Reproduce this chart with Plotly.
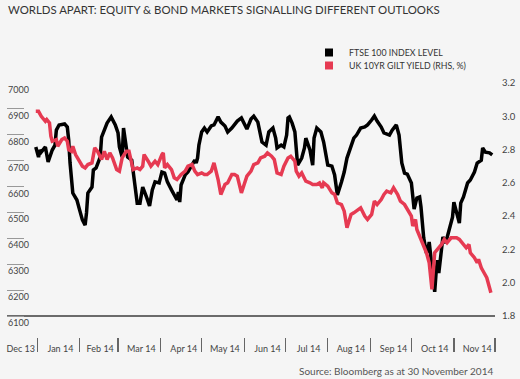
import plotly.graph_objects as go

# ---------------- data ----------------
ftse_dates = [
    "2013-12-31", "2014-01-02", "2014-01-03", "2014-01-04", "2014-01-07", "2014-01-09", "2014-01-12",
    "2014-01-14", "2014-01-15", "2014-01-17", "2014-01-21", "2014-01-23", "2014-01-24", "2014-01-25",
    "2014-01-27", "2014-01-30", "2014-02-01", "2014-02-03", "2014-02-05", "2014-02-06", "2014-02-07",
    "2014-02-10", "2014-02-11", "2014-02-13", "2014-02-16", "2014-02-17", "2014-02-21", "2014-02-24",
    "2014-02-27", "2014-03-01", "2014-03-02", "2014-03-04", "2014-03-05", "2014-03-07", "2014-03-08",
    "2014-03-11", "2014-03-13", "2014-03-15", "2014-03-17", "2014-03-19", "2014-03-22", "2014-03-24",
    "2014-03-26", "2014-03-28", "2014-03-31", "2014-04-02", "2014-04-04", "2014-04-06", "2014-04-09",
    "2014-04-11", "2014-04-13", "2014-04-14", "2014-04-15", "2014-04-16", "2014-04-19", "2014-04-21",
    "2014-04-24", "2014-04-26", "2014-04-27", "2014-04-28", "2014-04-29", "2014-05-01", "2014-05-03",
    "2014-05-05", "2014-05-08", "2014-05-10", "2014-05-13", "2014-05-15", "2014-05-18", "2014-05-20",
    "2014-05-23", "2014-05-25", "2014-05-27", "2014-05-30", "2014-06-01", "2014-06-03", "2014-06-06",
    "2014-06-08", "2014-06-11", "2014-06-12", "2014-06-14", "2014-06-17", "2014-06-19", "2014-06-22",
    "2014-06-24", "2014-06-25", "2014-06-28", "2014-06-30", "2014-07-02", "2014-07-03", "2014-07-04",
    "2014-07-06", "2014-07-08", "2014-07-10", "2014-07-13", "2014-07-15", "2014-07-16", "2014-07-19",
    "2014-07-21", "2014-07-22", "2014-07-24", "2014-07-27", "2014-07-29", "2014-08-01", "2014-08-04",
    "2014-08-06", "2014-08-08", "2014-08-11", "2014-08-13", "2014-08-15", "2014-08-18", "2014-08-20",
    "2014-08-22", "2014-08-25", "2014-08-28", "2014-08-30", "2014-09-02", "2014-09-04", "2014-09-06",
    "2014-09-09", "2014-09-11", "2014-09-15", "2014-09-17", "2014-09-20", "2014-09-22", "2014-09-23",
    "2014-09-24", "2014-09-26", "2014-09-28", "2014-10-01", "2014-10-02", "2014-10-03", "2014-10-05",
    "2014-10-07", "2014-10-08", "2014-10-09", "2014-10-10", "2014-10-12", "2014-10-13", "2014-10-14",
    "2014-10-15", "2014-10-16", "2014-10-18", "2014-10-19", "2014-10-20", "2014-10-21", "2014-10-23",
    "2014-10-24", "2014-10-26", "2014-10-28", "2014-10-31", "2014-11-01", "2014-11-03", "2014-11-05",
    "2014-11-06", "2014-11-08", "2014-11-11", "2014-11-13", "2014-11-16", "2014-11-18", "2014-11-21",
    "2014-11-22", "2014-11-24", "2014-11-27", "2014-11-29",
]
ftse_values = [
    6753, 6714, 6741, 6733, 6753, 6695, 6741,
    6760, 6818, 6838, 6842, 6830, 6780, 6691,
    6575, 6548, 6509, 6471, 6451, 6498, 6575,
    6598, 6664, 6672, 6714, 6791, 6845, 6869,
    6838, 6807, 6753, 6714, 6826, 6753, 6714,
    6702, 6625, 6536, 6536, 6598, 6556, 6525,
    6587, 6618, 6614, 6656, 6652, 6618, 6587,
    6567, 6548, 6579, 6540, 6606, 6645, 6656,
    6683, 6702, 6691, 6710, 6760, 6811, 6826,
    6811, 6834, 6838, 6869, 6849, 6834, 6811,
    6826, 6838, 6853, 6865, 6842, 6822, 6861,
    6872, 6849, 6818, 6772, 6760, 6811, 6826,
    6787, 6749, 6760, 6753, 6799, 6865, 6869,
    6845, 6811, 6683, 6710, 6749, 6787, 6741,
    6683, 6787, 6826, 6811, 6772, 6683, 6679,
    6645, 6567, 6618, 6656, 6710, 6760, 6787,
    6799, 6826, 6830, 6838, 6857, 6872, 6853,
    6830, 6807, 6799, 6818, 6838, 6799, 6753,
    6691, 6652, 6648, 6614, 6560, 6513, 6556,
    6560, 6521, 6471, 6401, 6343, 6355, 6386,
    6343, 6305, 6193, 6266, 6316, 6266, 6366,
    6405, 6382, 6421, 6482, 6540, 6498, 6459,
    6536, 6560, 6614, 6625, 6656, 6691, 6702,
    6749, 6733, 6730, 6722,
]

gilt_dates = [
    "2013-12-31", "2014-01-02", "2014-01-04", "2014-01-07", "2014-01-08", "2014-01-10", "2014-01-11",
    "2014-01-12", "2014-01-15", "2014-01-16", "2014-01-19", "2014-01-21", "2014-01-23", "2014-01-24",
    "2014-01-26", "2014-01-27", "2014-01-29", "2014-01-31", "2014-02-03", "2014-02-05", "2014-02-07",
    "2014-02-10", "2014-02-12", "2014-02-14", "2014-02-17", "2014-02-19", "2014-02-21", "2014-02-23",
    "2014-02-25", "2014-02-28", "2014-03-02", "2014-03-04", "2014-03-07", "2014-03-09", "2014-03-12",
    "2014-03-15", "2014-03-17", "2014-03-19", "2014-03-20", "2014-03-23", "2014-03-25", "2014-03-28",
    "2014-03-30", "2014-04-02", "2014-04-03", "2014-04-04", "2014-04-06", "2014-04-09", "2014-04-11",
    "2014-04-13", "2014-04-16", "2014-04-19", "2014-04-21", "2014-04-24", "2014-04-26", "2014-04-28",
    "2014-05-01", "2014-05-03", "2014-05-05", "2014-05-08", "2014-05-10", "2014-05-13", "2014-05-15",
    "2014-05-18", "2014-05-20", "2014-05-23", "2014-05-25", "2014-05-27", "2014-05-30", "2014-06-01",
    "2014-06-03", "2014-06-06", "2014-06-08", "2014-06-11", "2014-06-13", "2014-06-16", "2014-06-18",
    "2014-06-21", "2014-06-23", "2014-06-25", "2014-06-28", "2014-06-30", "2014-07-03", "2014-07-05",
    "2014-07-08", "2014-07-09", "2014-07-11", "2014-07-13", "2014-07-16", "2014-07-19", "2014-07-21",
    "2014-07-24", "2014-07-26", "2014-07-28", "2014-07-29", "2014-08-01", "2014-08-04", "2014-08-06",
    "2014-08-08", "2014-08-11", "2014-08-13", "2014-08-15", "2014-08-18", "2014-08-20", "2014-08-22",
    "2014-08-25", "2014-08-28", "2014-08-30", "2014-09-02", "2014-09-04", "2014-09-06", "2014-09-09",
    "2014-09-11", "2014-09-13", "2014-09-16", "2014-09-18", "2014-09-21", "2014-09-23", "2014-09-26",
    "2014-09-28", "2014-10-01", "2014-10-02", "2014-10-04", "2014-10-05", "2014-10-08", "2014-10-10",
    "2014-10-12", "2014-10-14", "2014-10-15", "2014-10-16", "2014-10-18", "2014-10-20", "2014-10-23",
    "2014-10-25", "2014-10-27", "2014-10-30", "2014-11-03", "2014-11-05", "2014-11-07", "2014-11-10",
    "2014-11-12", "2014-11-13", "2014-11-16", "2014-11-18", "2014-11-19", "2014-11-21", "2014-11-23",
    "2014-11-25", "2014-11-28",
]
gilt_values = [
    3.03, 3.03, 3.00, 2.97, 2.98, 2.96, 2.88,
    2.85, 2.86, 2.82, 2.86, 2.87, 2.85, 2.80,
    2.79, 2.82, 2.77, 2.74, 2.70, 2.69, 2.71,
    2.72, 2.81, 2.79, 2.74, 2.79, 2.74, 2.78,
    2.75, 2.68, 2.67, 2.75, 2.79, 2.79, 2.68,
    2.69, 2.68, 2.70, 2.77, 2.73, 2.70, 2.73,
    2.71, 2.77, 2.78, 2.69, 2.71, 2.68, 2.63,
    2.62, 2.65, 2.67, 2.70, 2.71, 2.67, 2.65,
    2.66, 2.65, 2.65, 2.67, 2.72, 2.62, 2.53,
    2.59, 2.60, 2.65, 2.65, 2.64, 2.54, 2.59,
    2.64, 2.67, 2.71, 2.72, 2.75, 2.76, 2.78,
    2.76, 2.74, 2.66, 2.65, 2.70, 2.75, 2.76,
    2.73, 2.67, 2.64, 2.66, 2.61, 2.60, 2.59,
    2.59, 2.60, 2.57, 2.60, 2.58, 2.54, 2.53,
    2.48, 2.47, 2.43, 2.33, 2.41, 2.42, 2.43,
    2.45, 2.40, 2.38, 2.41, 2.49, 2.47, 2.50,
    2.53, 2.55, 2.54, 2.57, 2.53, 2.49, 2.47,
    2.44, 2.40, 2.34, 2.38, 2.32, 2.26, 2.21,
    2.18, 2.12, 2.02, 1.96, 2.18, 2.20, 2.23,
    2.26, 2.24, 2.27, 2.27, 2.26, 2.24, 2.21,
    2.23, 2.18, 2.15, 2.12, 2.14, 2.09, 2.06,
    2.03, 1.94,
]

# month tick labels (placed mid-month); separators fall on month boundaries
month_label_dates = [
    "2013-12-20", "2014-01-18", "2014-02-16", "2014-03-18", "2014-04-18", "2014-05-18",
    "2014-06-18", "2014-07-18", "2014-08-18", "2014-09-18", "2014-10-18", "2014-11-18",
]
month_labels = [
    "Dec 13", "Jan 14", "Feb 14", "Mar 14", "Apr 14", "May 14",
    "Jun 14", "Jul 14", "Aug 14", "Sep 14", "Oct 14", "Nov 14",
]

series_names = ["FTSE 100 INDEX LEVEL", "UK 10YR GILT YIELD (RHS, %)"]
series_colors = ["#000000", "#e63a52"]

title_text = "WORLDS APART: EQUITY & BOND MARKETS SIGNALLING DIFFERENT OUTLOOKS"
source_text = "Source: Bloomberg as at 30 November 2014"

x_range = ["2013-12-10", "2014-12-01"]
ftse_range = [6018.9, 7000]
gilt_range = [1.6738, 3.2]

BG = "#f5f5f5"
FONT = "Lato, 'Open Sans', sans-serif"
PLOT_H = 254.0
BASE_POS = 21 / PLOT_H  # paper position of the 6100 / 1.8 baseline

fig = go.Figure()

fig.add_trace(go.Scatter(
    x=ftse_dates, y=ftse_values, mode="lines", name=series_names[0],
    line=dict(color=series_colors[0], width=3.5), showlegend=False,
    xaxis="x", yaxis="y",
))
fig.add_trace(go.Scatter(
    x=gilt_dates, y=gilt_values, mode="lines", name=series_names[1],
    line=dict(color=series_colors[1], width=3.5), showlegend=False,
    xaxis="x", yaxis="y2",
))
# legend entries (square swatches), each in its own legend box
for nm, col, lg in zip(series_names, series_colors, ["legend", "legend2"]):
    fig.add_trace(go.Scatter(
        x=[None], y=[None], mode="markers", name=nm, legend=lg,
        marker=dict(symbol="square", size=8, color=col),
        xaxis="x", yaxis="y",
    ))
# empty traces carrying the separator axis and the month-label axis
fig.add_trace(go.Scatter(x=[], y=[], xaxis="x2", yaxis="y", showlegend=False, hoverinfo="skip"))
fig.add_trace(go.Scatter(x=[], y=[], xaxis="x3", yaxis="y", showlegend=False, hoverinfo="skip"))

legend_common = dict(
    xanchor="left", yanchor="top", bgcolor="rgba(0,0,0,0)",
    font=dict(family=FONT, size=8.8, color="#333"), itemwidth=30,
)

fig.update_layout(
    width=520, height=379,
    margin=dict(l=7, r=25, t=83, b=42, autoexpand=False),
    paper_bgcolor=BG, plot_bgcolor=BG,
    font=dict(family=FONT, color="#444", size=10),
    hovermode=False,
    title=dict(
        text=title_text, xref="container", yref="container",
        x=8 / 520, y=1 - 10 / 379, xanchor="left", yanchor="middle",
        font=dict(family=FONT, size=11.4, color="#333"),
    ),
    xaxis=dict(
        type="date", range=x_range, domain=[0, 1], automargin=False,
        showgrid=False, zeroline=False, showticklabels=False, ticks="",
        showline=True, linecolor="#6b6b6b", linewidth=2,
        anchor="free", position=BASE_POS,
    ),
    xaxis2=dict(
        type="date", range=x_range, overlaying="x", anchor="free", position=0,
        automargin=False,
        showgrid=False, zeroline=False, showline=False, showticklabels=False,
        ticks="outside", ticklen=14, tickwidth=1.3, tickcolor="#666",
        tick0="2014-01-01", dtick="M1",
    ),
    xaxis3=dict(
        type="date", range=x_range, overlaying="x", anchor="free", position=0,
        automargin=False, ticklabeloverflow="allow",
        showgrid=False, zeroline=False, showline=False, ticks="",
        tickmode="array", tickvals=month_label_dates, ticktext=month_labels,
        ticklabelstandoff=5,
        tickfont=dict(family=FONT, size=9, color="#444"),
    ),
    yaxis=dict(
        range=ftse_range, domain=[0, 1], dtick=100, tick0=6100, automargin=False,
        showgrid=False, zeroline=False, showline=False, ticklabeloverflow="allow",
        ticks="inside", ticklen=17, tickwidth=1, tickcolor="#999",
        ticklabelposition="inside bottom", ticklabelstandoff=-2,
        tickfont=dict(family=FONT, size=9, color="#444"),
    ),
    yaxis2=dict(
        range=gilt_range, overlaying="y", side="right", dtick=0.2, tick0=1.8,
        automargin=False,
        tickformat=".1f", showgrid=False, zeroline=False, showline=False, ticks="",
        ticklabelstandoff=6,
        tickfont=dict(family=FONT, size=9.5, color="#444"),
    ),
    legend=dict(x=(309 - 7) / 488, y=(337 - 38) / PLOT_H, **legend_common),
    legend2=dict(x=(309 - 7) / 488, y=(337 - 51) / PLOT_H, **legend_common),
    annotations=[dict(
        text=source_text, xref="paper", yref="paper", x=1, y=(337 - 371) / PLOT_H,
        xanchor="right", yanchor="middle", showarrow=False,
        font=dict(family=FONT, size=10, color="#555"),
    )],
)

fig.write_html(
    "out.html",
    config={"displayModeBar": False, "staticPlot": True},
    post_script="document.body.style.margin='0px';",
)
